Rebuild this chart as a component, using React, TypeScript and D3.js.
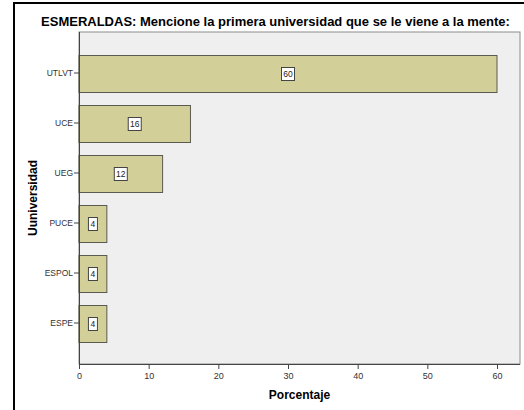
import * as d3 from "d3";
import React, { useEffect, useRef } from "react";

const categories: string[] = ["UTLVT", "UCE", "UEG", "PUCE", "ESPOL", "ESPE"];
const porcentajes: number[] = [60, 16, 12, 4, 4, 4];
const xTicks: number[] = [0, 10, 20, 30, 40, 50, 60];

const titulo = "ESMERALDAS: Mencione la primera universidad que se le viene a la mente:";
const xTitulo = "Porcentaje";
const yTitulo = "Uuniversidad";

const App = () => {
	const ref = useRef<SVGSVGElement>(null);

	useEffect(() => {
		const width = 524;
		const height = 410;
		const left = 79;
		const right = 520;
		const top = 32;
		const bottom = 364;
		const font = "Arial, 'Liberation Sans', sans-serif";

		const svg = d3.select(ref.current);
		svg.selectAll("*").remove();
		svg.attr("width", width).attr("height", height);

		svg.append("rect")
			.attr("width", width)
			.attr("height", height)
			.attr("fill", "#fff");

		// outer frame (cut off on the right/bottom)
		svg.append("rect")
			.attr("x", 14)
			.attr("y", 3)
			.attr("width", 600)
			.attr("height", 500)
			.attr("fill", "none")
			.attr("stroke", "#000")
			.attr("stroke-width", 2);

		svg.append("text")
			.attr("x", 275.5)
			.attr("y", 25.5)
			.attr("text-anchor", "middle")
			.attr("font-family", font)
			.attr("font-weight", "bold")
			.attr("font-size", 13)
			.attr("fill", "#000")
			.text(titulo);

		const xScale = d3.scaleLinear().domain([0, 60]).range([left, 497]);
		const yScale = d3
			.scaleBand<string>()
			.domain(categories)
			.range([top, bottom])
			.paddingInner(0.26)
			.paddingOuter(0.45);

		// plot background
		svg.append("rect")
			.attr("x", left)
			.attr("y", top)
			.attr("width", right - left)
			.attr("height", bottom - top)
			.attr("fill", "#efefef")
			.attr("stroke", "#8c8c8c")
			.attr("stroke-width", 1);

		// bars
		svg.append("g")
			.selectAll("rect")
			.data(categories)
			.join("rect")
			.attr("x", left)
			.attr("y", (d) => Math.round(yScale(d) as number) + 0.5)
			.attr("width", (d, i) => xScale(porcentajes[i]) - left)
			.attr("height", Math.round(yScale.bandwidth()))
			.attr("fill", "#d3cf98")
			.attr("stroke", "#5a5a50")
			.attr("stroke-width", 1);

		// value labels
		const labels = svg.append("g")
			.selectAll("g")
			.data(categories)
			.join("g")
			.attr("transform", (d, i) =>
				`translate(${xScale(porcentajes[i] / 2)}, ${(yScale(d) as number) + yScale.bandwidth() / 2 + 1})`
			);
		labels.append("rect")
			.attr("x", (d, i) => (String(porcentajes[i]).length > 1 ? -6.5 : -4.5))
			.attr("y", -6.5)
			.attr("width", (d, i) => (String(porcentajes[i]).length > 1 ? 13 : 9))
			.attr("height", 13)
			.attr("fill", "#fff")
			.attr("stroke", "#444")
			.attr("stroke-width", 1);
		labels.append("text")
			.attr("text-anchor", "middle")
			.attr("y", 3)
			.attr("font-family", font)
			.attr("font-size", 8.5)
			.attr("fill", "#222")
			.text((d, i) => porcentajes[i]);

		// axes
		const xAxis = svg.append("g")
			.attr("transform", `translate(0, ${bottom})`)
			.call(d3.axisBottom(xScale).tickValues(xTicks).tickSize(5).tickSizeOuter(0));
		xAxis.select(".domain").attr("stroke", "#444").attr("d", `M${left},0.5H${right}`);
		xAxis.selectAll(".tick line").attr("stroke", "#444");
		xAxis.selectAll(".tick text")
			.attr("font-family", font)
			.attr("font-size", 9)
			.attr("fill", "#333")
			.attr("dy", "0.8em");

		const yAxis = svg.append("g")
			.attr("transform", `translate(${left}, 0)`)
			.call(d3.axisLeft(yScale).tickSize(5).tickSizeOuter(0));
		yAxis.select(".domain").attr("stroke", "#444").attr("d", `M0.5,${top}V${bottom}`);
		yAxis.selectAll(".tick line").attr("stroke", "#444");
		yAxis.selectAll(".tick text")
			.attr("font-family", font)
			.attr("font-size", 8.5)
			.attr("fill", "#333")
			.attr("x", -6);

		svg.append("text")
			.attr("x", (left + right) / 2)
			.attr("y", 399)
			.attr("text-anchor", "middle")
			.attr("font-family", font)
			.attr("font-weight", "bold")
			.attr("font-size", 12)
			.attr("fill", "#000")
			.text(xTitulo);

		svg.append("text")
			.attr("transform", `translate(37, ${(top + bottom) / 2}) rotate(-90)`)
			.attr("text-anchor", "middle")
			.attr("font-family", font)
			.attr("font-weight", "bold")
			.attr("font-size", 12)
			.attr("fill", "#000")
			.text(yTitulo);
	});

	return (
		<svg
			ref={ref}
			style={{ position: "absolute", left: 0, top: 0, display: "block" }}
		></svg>
	);
};

export default App;
